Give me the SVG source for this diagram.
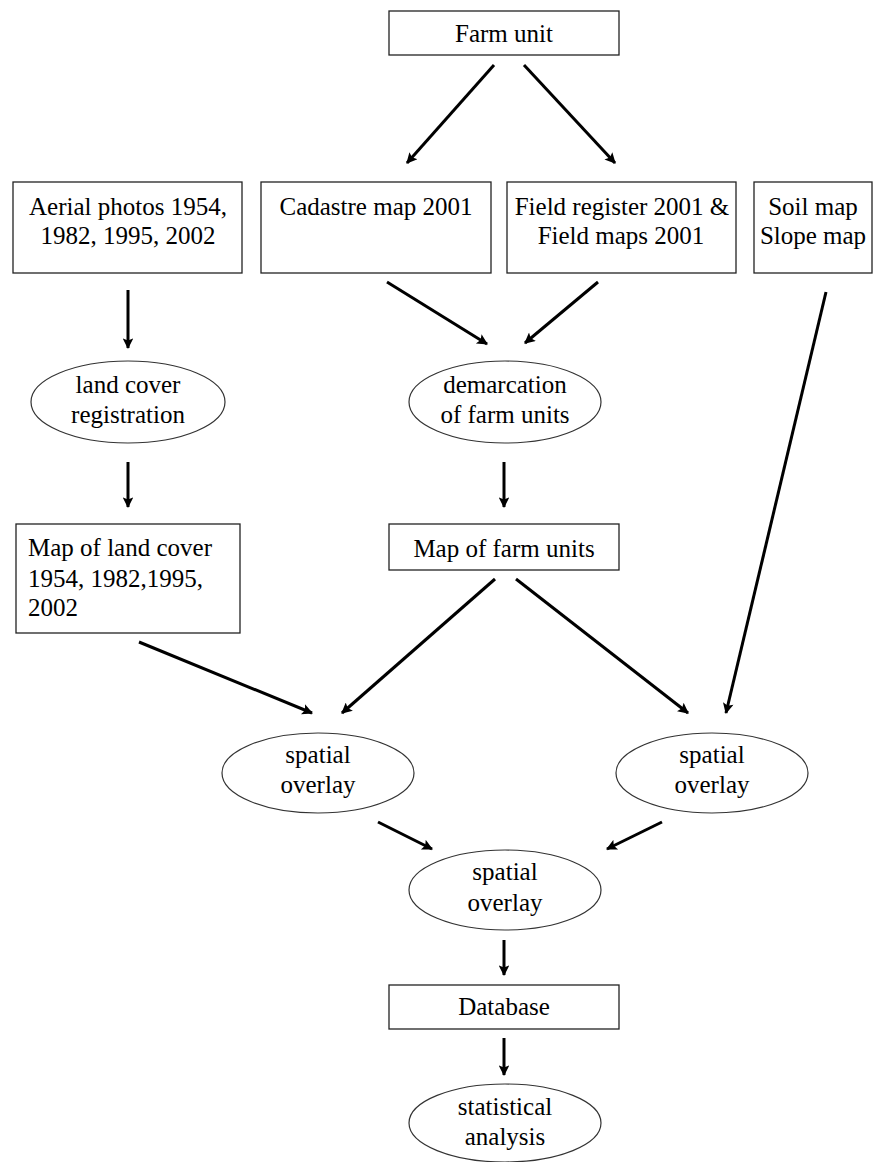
<svg xmlns="http://www.w3.org/2000/svg" width="874" height="1162" viewBox="0 0 874 1162">
  <style>
    .box { fill: #ffffff; stroke: #222222; stroke-width: 1.3; }
    .oval { fill: #ffffff; stroke: #333333; stroke-width: 1.2; }
    .lbl { font-family: "Liberation Serif", "Times New Roman", serif; font-size: 25px; fill: #000000; text-anchor: middle; }
    .left { text-anchor: start; }
    .edge { fill: none; stroke: #000000; stroke-width: 3; marker-end: url(#arrow); }
  </style>
  <defs>
    <marker id="arrow" viewBox="0 0 10 10" refX="9" refY="5" markerWidth="4.2" markerHeight="3.6" orient="auto">
      <path d="M0,0 L10,5 L0,10 L2,5 z" fill="#000000"/>
    </marker>
  </defs>
  <rect width="874" height="1162" fill="#ffffff"/>

  <g id="connectors">
    <line class="edge" x1="494" y1="65" x2="407" y2="163"/>
    <line class="edge" x1="524" y1="65" x2="615" y2="163"/>
    <line class="edge" x1="128" y1="290" x2="128" y2="348"/>
    <line class="edge" x1="387" y1="282" x2="487" y2="344"/>
    <line class="edge" x1="598" y1="282" x2="525" y2="343"/>
    <line class="edge" x1="826" y1="292" x2="726" y2="713"/>
    <line class="edge" x1="128" y1="462" x2="128" y2="507"/>
    <line class="edge" x1="504" y1="462" x2="504" y2="507"/>
    <line class="edge" x1="139" y1="642" x2="312" y2="713"/>
    <line class="edge" x1="495" y1="579" x2="342" y2="713"/>
    <line class="edge" x1="516" y1="579" x2="688" y2="713"/>
    <line class="edge" x1="378" y1="822" x2="432" y2="849"/>
    <line class="edge" x1="662" y1="822" x2="607" y2="849"/>
    <line class="edge" x1="504" y1="940" x2="504" y2="975"/>
    <line class="edge" x1="504" y1="1038" x2="504" y2="1075"/>
  </g>

  <g id="farm-unit">
    <rect class="box" x="389" y="11" width="230" height="44"/>
    <text class="lbl" x="504" y="42">Farm unit</text>
  </g>

  <g id="aerial-photos">
    <rect class="box" x="13" y="182" width="229" height="91"/>
    <text class="lbl" x="128" y="215">Aerial photos 1954,</text>
    <text class="lbl" x="128" y="244">1982, 1995, 2002</text>
  </g>

  <g id="cadastre-map">
    <rect class="box" x="261" y="182" width="230" height="91"/>
    <text class="lbl" x="376" y="215">Cadastre map 2001</text>
  </g>

  <g id="field-register">
    <rect class="box" x="507" y="182" width="229" height="91"/>
    <text class="lbl" x="622" y="215">Field register 2001 &amp;</text>
    <text class="lbl" x="621" y="244">Field maps 2001</text>
  </g>

  <g id="soil-slope">
    <rect class="box" x="754" y="182" width="118" height="91"/>
    <text class="lbl" x="813" y="215">Soil map</text>
    <text class="lbl" x="813" y="244">Slope map</text>
  </g>

  <g id="land-cover-registration">
    <ellipse class="oval" cx="128" cy="402" rx="97" ry="41"/>
    <text class="lbl" x="128" y="393">land cover</text>
    <text class="lbl" x="128" y="423">registration</text>
  </g>

  <g id="demarcation">
    <ellipse class="oval" cx="505" cy="402" rx="96" ry="41"/>
    <text class="lbl" x="505" y="393">demarcation</text>
    <text class="lbl" x="505" y="423">of farm units</text>
  </g>

  <g id="map-land-cover">
    <rect class="box" x="16" y="524" width="224" height="109"/>
    <text class="lbl left" x="28" y="556">Map of land cover</text>
    <text class="lbl left" x="28" y="587">1954, 1982,1995,</text>
    <text class="lbl left" x="28" y="616">2002</text>
  </g>

  <g id="map-farm-units">
    <rect class="box" x="389" y="524" width="230" height="46"/>
    <text class="lbl" x="504" y="557">Map of farm units</text>
  </g>

  <g id="spatial-overlay-left">
    <ellipse class="oval" cx="318" cy="773" rx="96" ry="40"/>
    <text class="lbl" x="318" y="763">spatial</text>
    <text class="lbl" x="318" y="793">overlay</text>
  </g>

  <g id="spatial-overlay-right">
    <ellipse class="oval" cx="712" cy="773" rx="96" ry="40"/>
    <text class="lbl" x="712" y="763">spatial</text>
    <text class="lbl" x="712" y="793">overlay</text>
  </g>

  <g id="spatial-overlay-center">
    <ellipse class="oval" cx="505" cy="890" rx="96" ry="40"/>
    <text class="lbl" x="505" y="880">spatial</text>
    <text class="lbl" x="505" y="911">overlay</text>
  </g>

  <g id="database">
    <rect class="box" x="389" y="985" width="230" height="44"/>
    <text class="lbl" x="504" y="1015">Database</text>
  </g>

  <g id="statistical-analysis">
    <ellipse class="oval" cx="505" cy="1123" rx="96" ry="39"/>
    <text class="lbl" x="505" y="1115">statistical</text>
    <text class="lbl" x="505" y="1145">analysis</text>
  </g>
</svg>
